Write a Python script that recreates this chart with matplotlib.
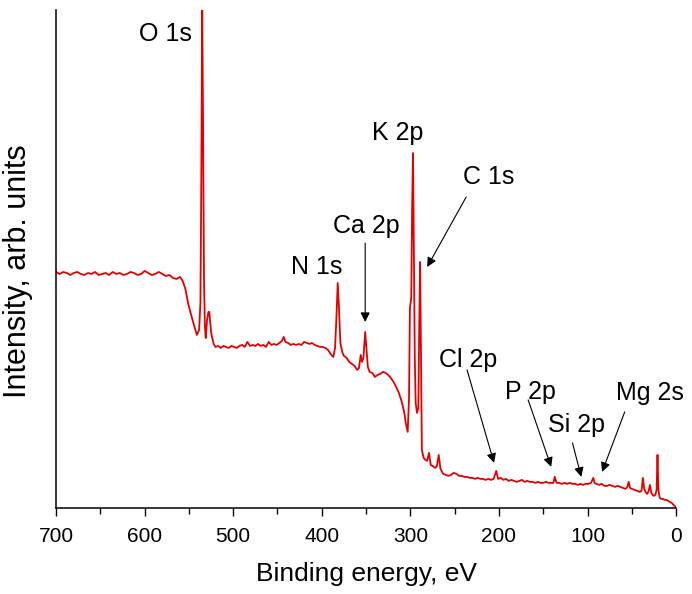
import matplotlib
matplotlib.use("Agg")
import matplotlib.pyplot as plt
from matplotlib.ticker import MultipleLocator

plt.rcParams['font.family'] = ['Liberation Sans', 'DejaVu Sans']

# survey spectrum (arb. units)
binding_energy = [
    700, 696, 692, 688, 684, 680, 676, 672, 668, 664, 660, 656, 652, 648, 644,
    640, 636, 632, 628, 624, 620, 616, 612, 608, 604, 600, 596, 592, 588, 584,
    580, 576, 572, 568, 564, 560, 557, 554, 551, 549, 545, 541, 538.5, 537,
    536, 535, 534, 533, 532, 531, 529.5, 528, 527, 525, 524, 522, 520, 517,
    514, 511, 508, 505, 502, 499, 496, 493, 490, 487, 484, 481, 478, 475, 472,
    469, 466, 463, 460, 457, 454, 451, 448, 445, 443, 441, 438, 435, 432, 429,
    426, 423, 420, 417, 414, 411, 408, 405, 402, 399, 396, 393, 390, 387, 385,
    383.5, 382, 380.5, 379, 377, 375, 372, 369, 366, 363, 360, 358, 356, 354.5,
    353, 351, 349.5, 348, 346, 343, 340, 337, 334, 331, 328, 325, 322, 319, 316,
    313, 310, 307, 305, 303, 301.5, 300.5, 299, 298, 297, 296, 295, 294, 292.5,
    291, 290, 289, 288, 287, 285, 283, 281, 279, 277, 275, 272, 270, 268, 266,
    263, 260, 257, 254, 251, 248, 245, 242, 239, 236, 233, 230, 227, 224, 221,
    218, 215, 212, 209, 206, 203, 201, 198, 195, 192, 189, 186, 183, 180, 177,
    174, 171, 168, 165, 162, 159, 156, 153, 150, 147, 144, 141, 138.5, 137,
    135, 132, 129, 126, 123, 120, 117, 114, 111, 108, 105, 102, 99, 96, 93.5,
    92, 90, 87, 84, 81, 78, 75, 72, 69, 66, 63, 60, 57, 55, 53.5, 52, 50, 47,
    44, 41, 39, 37.5, 36, 34, 32.5, 31, 29.5, 28, 26.5, 25, 23.5, 22, 21, 20,
    18.5, 17, 15, 13, 11, 9, 7, 5, 3, 1.5, 0,
]
intensity = [
    236, 234, 236, 235, 233, 235, 236, 234, 233, 235, 234, 236, 233, 234, 235,
    233, 236, 234, 235, 233, 234, 236, 235, 233, 234, 237, 235, 233, 234, 236,
    234, 232, 233, 230, 229, 231, 227, 219, 205, 198, 185, 173, 178, 205,
    330, 505, 380, 230, 182, 170, 188, 196, 196, 176, 171, 164, 161, 162,
    160, 162, 161, 160, 162, 161, 160, 162, 163, 161, 166, 162, 163, 162, 164,
    162, 163, 161, 166, 163, 164, 163, 165, 167, 171, 166, 165, 163, 164, 163,
    164, 163, 166, 165, 164, 165, 163, 162, 161, 161, 160, 158, 154, 151, 160,
    190, 225, 198, 165, 156, 152, 150, 146, 144, 142, 138, 140, 153, 146,
    150, 176, 158, 141, 136, 135, 131, 133, 134, 136, 135, 133, 130, 126, 121,
    115, 107, 96, 84, 76, 110, 200, 210, 300, 355, 250, 150, 105, 95,
    100, 180, 246, 150, 58, 50, 48, 47, 55, 43, 42, 40, 42, 53, 39,
    34, 33, 32, 33, 35, 34, 32, 32, 31, 31, 30, 30, 29, 30, 29,
    29, 28, 29, 28, 29, 37, 29, 30, 28, 29, 27, 28, 27, 26, 27,
    28, 26, 27, 26, 26, 25, 26, 25, 25, 26, 25, 25, 25, 31,
    25, 25, 24, 25, 24, 25, 24, 24, 23, 24, 23, 24, 24, 25, 30,
    25, 24, 23, 24, 22, 22, 23, 22, 21, 22, 21, 20, 19, 21, 26, 20, 19, 18,
    17, 16, 17, 30, 19, 15, 14, 17, 23, 15, 13, 12, 13, 18, 53, 18,
    10, 9, 9, 8, 8, 7, 6, 5, 3, 2, 0,
]

peak_labels = ["O 1s", "K 2p", "N 1s", "Ca 2p", "C 1s",
               "Cl 2p", "P 2p", "Si 2p", "Mg 2s"]

fig = plt.figure(figsize=(6.92, 5.94), dpi=100)
ax = fig.add_axes([0.081, 0.145, 0.896, 0.838])

ax.plot(binding_energy, intensity, color='#e50000', lw=1.3)

ax.set_xlim(700, 0)
ax.set_ylim(0, 498)
ax.xaxis.set_major_locator(MultipleLocator(100))
ax.xaxis.set_minor_locator(MultipleLocator(50))
ax.tick_params(axis='x', which='major', direction='out', length=6, width=1,
               labelsize=15, pad=8)
ax.tick_params(axis='x', which='minor', direction='out', length=4, width=1)
ax.set_yticks([])
for side in ['top', 'right']:
    ax.spines[side].set_visible(False)
for side in ['left', 'bottom']:
    ax.spines[side].set_linewidth(1.1)

ax.set_xlabel("Binding energy, eV", fontsize=19, labelpad=11)
ax.set_ylabel("Intensity, arb. units", fontsize=22)
ax.yaxis.set_label_coords(-0.037, 0.476)

fs = 18
arrow = dict(arrowstyle='-|>', color='black', lw=0.8, mutation_scale=14,
             shrinkA=0, shrinkB=0)

ax.text(577, 474, peak_labels[0], fontsize=fs, ha='center', va='center')
ax.text(314, 375, peak_labels[1], fontsize=fs, ha='center', va='center')
ax.text(406, 241, peak_labels[2], fontsize=fs, ha='center', va='center')
ax.text(350, 282, peak_labels[3], fontsize=fs, ha='center', va='center')
ax.annotate("", xy=(351, 186), xytext=(351, 265), arrowprops=arrow)
ax.text(212, 331, peak_labels[4], fontsize=fs, ha='center', va='center')
ax.annotate("", xy=(281, 241), xytext=(237, 311), arrowprops=arrow)
ax.text(235, 148, peak_labels[5], fontsize=fs, ha='center', va='center')
ax.annotate("", xy=(205.5, 45), xytext=(236, 138), arrowprops=arrow)
ax.text(164, 116, peak_labels[6], fontsize=fs, ha='center', va='center')
ax.annotate("", xy=(141, 41), xytext=(167, 108), arrowprops=arrow)
ax.text(112, 83, peak_labels[7], fontsize=fs, ha='center', va='center')
ax.annotate("", xy=(107, 31), xytext=(117, 65), arrowprops=arrow)
ax.text(29, 115, peak_labels[8], fontsize=fs, ha='center', va='center')
ax.annotate("", xy=(83.5, 36), xytext=(58, 96), arrowprops=arrow)

fig.savefig("out.png", dpi=100)
